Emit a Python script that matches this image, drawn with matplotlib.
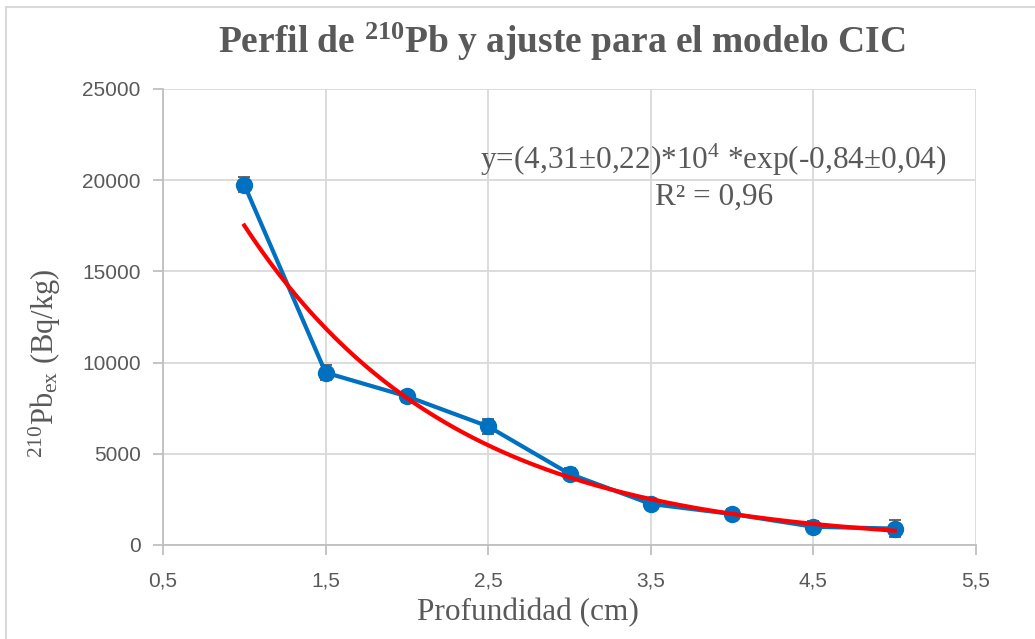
import numpy as np
import matplotlib.pyplot as plt
from matplotlib.lines import Line2D

# Perfil de 210Pb en exceso frente a la profundidad
profundidad = [1.0, 1.5, 2.0, 2.5, 3.0, 3.5, 4.0, 4.5, 5.0]
pb210_ex = [19750, 9450, 8150, 6500, 3900, 2250, 1700, 1000, 900]
error_pb = [400, 400, 300, 400, 300, 250, 250, 300, 450]

x_ticks = [0.5, 1.5, 2.5, 3.5, 4.5, 5.5]
x_ticklabels = ['0,5', '1,5', '2,5', '3,5', '4,5', '5,5']
y_ticks = [0, 5000, 10000, 15000, 20000, 25000]

plt.rcParams['mathtext.fontset'] = 'custom'
plt.rcParams['mathtext.rm'] = 'Liberation Serif'
plt.rcParams['mathtext.default'] = 'regular'

gris = '#595959'
serif = 'Liberation Serif'

fig = plt.figure(figsize=(10.35, 6.39), dpi=100)
ax = fig.add_axes([163/1035, 1-545/639, (976-163)/1035, (545-89)/639])

# linea de tendencia exponencial (ajuste de ln y frente a x)
k, lnA = np.polyfit(profundidad, np.log(pb210_ex), 1)
xs = np.linspace(min(profundidad), max(profundidad), 200)

ax.errorbar(profundidad, pb210_ex, yerr=error_pb, color='#0070C0', lw=3,
            marker='o', ms=11.5, ecolor=gris, elinewidth=1.3, capsize=4,
            capthick=1.3, zorder=3)
ax.plot(xs, np.exp(lnA + k*xs), color='#FF0000', lw=3, zorder=4)

ax.set_xlim(0.5, 5.5)
ax.set_ylim(0, 25000)
ax.set_xticks(x_ticks)
ax.set_xticklabels(x_ticklabels)
ax.set_yticks(y_ticks)
ax.grid(True, color='#d9d9d9', lw=1.3)
ax.set_axisbelow(True)
for s in ['top', 'right']:
    ax.spines[s].set_visible(False)
for s in ['left', 'bottom']:
    ax.spines[s].set_color('#bfbfbf')
    ax.spines[s].set_linewidth(1.3)
ax.tick_params(colors='#bfbfbf', labelcolor=gris, length=7, width=1.3,
               labelsize=15)
ax.tick_params(axis='y', pad=9)
ax.tick_params(axis='x', pad=12)
for lab in ax.get_xticklabels() + ax.get_yticklabels():
    lab.set_family('Liberation Sans')

fig.text(562/1035, 1-42/639, 'Perfil de $^{210}$Pb y ajuste para el modelo CIC',
         ha='center', va='center', fontsize=27, fontweight='bold',
         family=serif, color=gris)
fig.text(45/1035, 1-363/639, '$^{210}$Pb$_{ex}$ (Bq/kg)', rotation=90,
         ha='center', va='center', fontsize=22, family=serif, color=gris)
fig.text(528/1035, 1-613/639, 'Profundidad (cm)', ha='center', va='center',
         fontsize=22.5, family=serif, color=gris)
fig.text(713/1035, 1-160/639, 'y=(4,31±0,22)*10$^{4}$ *exp(-0,84±0,04)',
         ha='center', va='center', fontsize=22.5, family=serif, color=gris)
fig.text(714/1035, 1-197/639, 'R² = 0,96', ha='center', va='center',
         fontsize=22.5, family=serif, color=gris)

# marco del grafico
fig.add_artist(Line2D([6/1035, 1], [1-7/639, 1-7/639], color='#d9d9d9', lw=1.5))
fig.add_artist(Line2D([6/1035, 6/1035], [0, 1-7/639], color='#d9d9d9', lw=1.5))

fig.savefig('out.png', dpi=100)
